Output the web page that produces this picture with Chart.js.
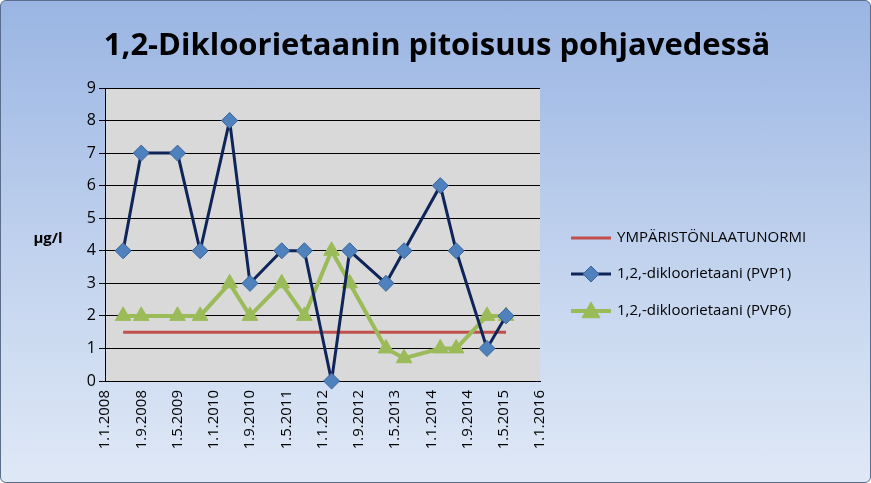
<!DOCTYPE html>
<html><head><meta charset="utf-8">
<script src="https://cdn.jsdelivr.net/npm/chart.js@4"></script>
<style>
html,body{margin:0;padding:0;}
body{width:871px;height:483px;overflow:hidden;}
#wrap{position:relative;width:869px;height:481px;border:1px solid #5a6e8c;border-radius:6px;background:linear-gradient(#9ab5e3,#c6d6ef 60%,#dfe8f6);}
canvas{position:absolute;left:0;top:0;}
</style></head>
<body><div id="wrap"><canvas id="chart" width="869" height="481"></canvas></div>
<script>
// x positions are months since 1.1.2008
const tickLabels = ['1.1.2008','1.9.2008','1.5.2009','1.1.2010','1.9.2010','1.5.2011','1.1.2012','1.9.2012','1.5.2013','1.1.2014','1.9.2014','1.5.2015','1.1.2016'];
const sampleMonths = [4, 8, 16, 21, 27.5, 32, 39, 44, 50, 54, 62, 66, 74, 77.5, 84.3, 88.5];
const pvp1 = [4, 7, 7, 4, 8, 3, 4, 4, 0, 4, 3, 4, 6, 4, 1, 2];
const pvp6 = [2, 2, 2, 2, 3, 2, 3, 2, 4, 3, 1, 0.7, 1, 1, 2, 2];
const normValue = 1.5;
const seriesNames = ['YMPÄRISTÖNLAATUNORMI', '1,2,-dikloorietaani (PVP1)', '1,2,-dikloorietaani (PVP6)'];

const pts = (ys)=> sampleMonths.map((m,i)=>({x:m, y:ys[i]}));
const normPts = [{x:sampleMonths[0], y:normValue}, {x:sampleMonths[sampleMonths.length-1], y:normValue}];

const decor = {
  id:'decor',
  beforeDraw(c){
    const {ctx, chartArea:a} = c;
    ctx.save();
    ctx.fillStyle = '#d9d9d9';
    ctx.fillRect(a.left, a.top, a.right-a.left, a.bottom-a.top);
    ctx.restore();
  },
  afterDraw(c){
    const ctx = c.ctx;
    ctx.save();
    ctx.fillStyle = '#000';
    ctx.font = 'bold 31px "Open Sans", sans-serif';
    ctx.textAlign = 'center'; ctx.textBaseline = 'middle';
    ctx.fillText('1,2-Dikloorietaanin pitoisuus pohjavedessä', 436, 45);
    ctx.font = 'bold 15px "Open Sans", sans-serif';
    ctx.fillText('µg/l', 47, 238);
    const ds = c.data.datasets;
    const rows = [237, 273, 310];
    ctx.font = '15px "Open Sans", sans-serif';
    ctx.textAlign = 'left';
    rows.forEach((y,i)=>{
      const d = ds[i];
      ctx.strokeStyle = d.borderColor; ctx.lineWidth = d.borderWidth;
      ctx.beginPath(); ctx.moveTo(570, y); ctx.lineTo(610, y); ctx.stroke();
      if(d.pointStyle && d.pointRadius){
        ctx.fillStyle = d.pointBackgroundColor; ctx.strokeStyle = d.pointBorderColor; ctx.lineWidth = 1;
        ctx.beginPath();
        const r = d.pointRadius;
        if(d.pointStyle === 'rectRot'){ ctx.moveTo(590,y-r); ctx.lineTo(590+r,y); ctx.lineTo(590,y+r); ctx.lineTo(590-r,y); }
        else { ctx.moveTo(590,y-r); ctx.lineTo(590+r,y+r*0.75); ctx.lineTo(590-r,y+r*0.75); }
        ctx.closePath(); ctx.fill(); ctx.stroke();
      }
      ctx.fillStyle = '#000';
      ctx.fillText(seriesNames[i], 616, y);
    });
    ctx.restore();
  }
};

new Chart(document.getElementById('chart'), {
  type:'line',
  data:{ datasets:[
    { label:seriesNames[0], data:normPts, borderColor:'#c0504d', borderWidth:3, pointRadius:0, pointStyle:false, order:3 },
    { label:seriesNames[1], data:pts(pvp1), borderColor:'#0f2559', borderWidth:3, pointStyle:'rectRot', pointRadius:8,
      pointBackgroundColor:'#4f81bd', pointBorderColor:'#3a659a', pointBorderWidth:1, order:1, clip:false },
    { label:seriesNames[2], data:pts(pvp6), borderColor:'#9bbb59', borderWidth:4, pointStyle:'triangle', pointRadius:9,
      pointBackgroundColor:'#9bbb59', pointBorderColor:'#9bbb59', pointBorderWidth:1, order:2, clip:false }
  ]},
  options:{
    responsive:false, animation:false,
    layout:{ padding:{ left:0, top:87, right:330, bottom:0 } },
    plugins:{ legend:{ display:false }, tooltip:{ enabled:false } },
    elements:{ line:{ tension:0 } },
    scales:{
      x:{ type:'linear', min:0, max:96, afterBuildTicks:(s)=>{ s.ticks = tickLabels.map((t,i)=>({value:i*8})); },
        ticks:{ color:'#000', font:{ size:15, family:'"Open Sans", sans-serif' }, minRotation:90, maxRotation:90, autoSkip:false,
          callback:(v)=> tickLabels[Math.round(v/8)] },
        grid:{ display:false, drawTicks:true, tickLength:6, tickColor:'#000' }, border:{ color:'#000' },
        afterFit:(s)=>{ s.height = 101; } },
      y:{ min:0, max:9, ticks:{ stepSize:1, color:'#000', font:{ size:16, family:'"Open Sans", sans-serif' } },
        grid:{ color:'#000', tickLength:6 }, border:{ color:'#000' },
        afterFit:(s)=>{ s.width = 104; } }
    }
  },
  plugins:[decor]
});
</script></body></html>
